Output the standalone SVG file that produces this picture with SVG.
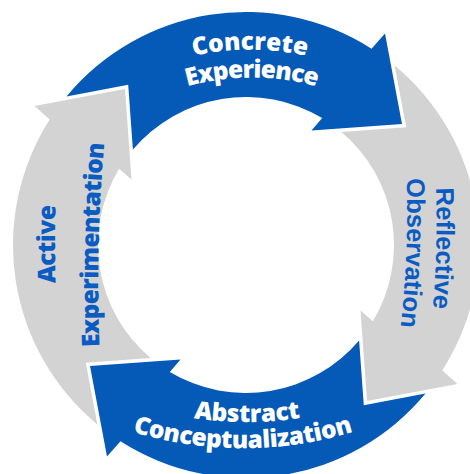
<svg xmlns="http://www.w3.org/2000/svg" xmlns:xlink="http://www.w3.org/1999/xlink" width="470" height="474" viewBox="0 0 470 474">
  <style>
    .blue { fill: #0559b7; }
    .gray { fill: #d3d3d3; }
    .lbl-white { fill: #ffffff; font-family: "Open Sans", "Liberation Sans", sans-serif; font-weight: 800; font-size: 24.5px; }
    .lbl-blue { fill: #0a5bc2; font-family: "Open Sans", "Liberation Sans", sans-serif; font-weight: 800; font-size: 24.5px; }
    .lbl-arial { fill: #0a5bc2; font-family: "Liberation Sans", Arial, sans-serif; font-weight: 700; font-size: 25.5px; }
  </style>
  <defs>
    <!-- one ring segment in the top position; its tail is notched to leave a white gap
         round the previous segment's arrowhead. The other three are rotations about (246,245). -->
    <path id="arrow" d="M 66.5 96.4 A 233 233 0 0 1 371.5 48.7 L 385 33.5 L 402 124 L 311.5 130.5 L 322.2 118.1 A 148 148 0 0 0 132.9 149.6 L 128.2 84.8 Z"/>

    <!-- baselines for the curved labels -->
    <path id="p-concrete" d="M 110 90.3 A 262 262 0 0 1 390 90.3"/>
    <path id="p-experience" d="M 122 115.8 A 240 240 0 0 1 382 115.8"/>
    <path id="p-reflective" d="M 434 150 Q 441 248 429 346"/>
    <path id="p-observation" d="M 405 140 Q 412 252 396 365"/>
    <path id="p-abstract" d="M 117 397.3 A 353 353 0 0 0 377 397.3"/>
    <path id="p-concept" d="M 83 412.9 A 380 380 0 0 0 403 412.9"/>
    <path id="p-active" d="M 60 370 Q 50 244 60 118"/>
    <path id="p-experiment" d="M 102 395 Q 92 245 109 95"/>
  </defs>

  <!-- stage 1 -->
  <g id="concrete-experience">
    <use xlink:href="#arrow" class="blue"/>
    <text class="lbl-white"><textPath xlink:href="#p-concrete" startOffset="50%" text-anchor="middle" textLength="114">Concrete</textPath></text>
    <text class="lbl-white"><textPath xlink:href="#p-experience" startOffset="50%" text-anchor="middle" textLength="131">Experience</textPath></text>
  </g>

  <!-- stage 2 -->
  <g id="reflective-observation">
    <use xlink:href="#arrow" class="gray" transform="rotate(90 246 245)"/>
    <text class="lbl-arial"><textPath xlink:href="#p-reflective" startOffset="50%" text-anchor="middle">Reflective</textPath></text>
    <text class="lbl-arial"><textPath xlink:href="#p-observation" startOffset="50%" text-anchor="middle">Observation</textPath></text>
  </g>

  <!-- stage 3 -->
  <g id="abstract-conceptualization">
    <use xlink:href="#arrow" class="blue" transform="rotate(180 246 245)"/>
    <text class="lbl-white"><textPath xlink:href="#p-abstract" startOffset="50%" text-anchor="middle" textLength="107">Abstract</textPath></text>
    <text class="lbl-white"><textPath xlink:href="#p-concept" startOffset="50%" text-anchor="middle" textLength="224">Conceptualization</textPath></text>
  </g>

  <!-- stage 4 -->
  <g id="active-experimentation">
    <use xlink:href="#arrow" class="gray" transform="rotate(270 246 245)"/>
    <text class="lbl-blue"><textPath xlink:href="#p-active" startOffset="50%" text-anchor="middle" textLength="78">Active</textPath></text>
    <text class="lbl-blue"><textPath xlink:href="#p-experiment" startOffset="50%" text-anchor="middle" textLength="204">Experimentation</textPath></text>
  </g>
</svg>
